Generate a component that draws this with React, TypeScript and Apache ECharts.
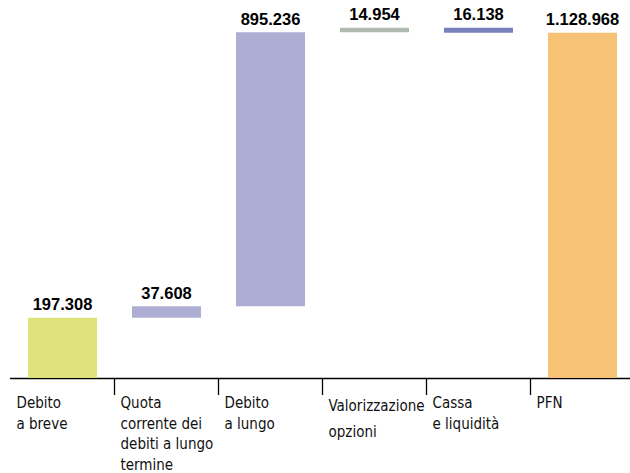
import React, { useEffect, useRef } from "react";
import * as echarts from "echarts";

const categories = [
  "Debito\na breve",
  "Quota\ncorrente dei\ndebiti a lungo\ntermine",
  "Debito\na lungo",
  "Valorizzazione\nopzioni",
  "Cassa\ne liquidità",
  "PFN",
];
// signed movements; the last one is the total
const values = [197308, 37608, 895236, 14954, -16138, 1128968];
const isTotal = [false, false, false, false, false, true];
const colors = ["#dde27a", "#aeadd3", "#aeadd3", "#b0bab0", "#7a7fbd", "#f8c276"];

const fmt = (v: number) => String(Math.abs(v)).replace(/\B(?=(\d{3})+(?!\d))/g, ".");

export default function App() {
  const ref = useRef<HTMLDivElement>(null);
  useEffect(() => {
    if (!ref.current) return;
    const chart = echarts.init(ref.current, null, { renderer: "svg" });
    const base: number[] = [];
    const heights: number[] = [];
    let running = 0;
    values.forEach((v, i) => {
      if (isTotal[i]) {
        base.push(0);
        heights.push(v);
      } else if (v >= 0) {
        base.push(running);
        heights.push(v);
        running += v;
      } else {
        running += v;
        base.push(running);
        heights.push(-v);
      }
    });
    const font = "'Liberation Sans Narrow', 'DejaVu Sans Condensed', 'Liberation Sans', sans-serif";
    const labelStyle = {
      align: "left",
      verticalAlign: "top",
      padding: [0, 0, 0, -46],
      fontFamily: font,
      fontSize: 15,
      lineHeight: 20.5,
      color: "#111",
    };
    chart.setOption({
      animation: false,
      grid: { left: 10.5, width: 624, top: 11, bottom: 95, outerBoundsMode: "none", containLabel: false },
      xAxis: {
        type: "category",
        data: categories.map((c, i) =>
          i === 3 ? { value: c, textStyle: { ...labelStyle, lineHeight: 26 } } : c
        ),
        axisLine: { lineStyle: { color: "#000", width: 1.3 } },
        axisTick: {
          show: true,
          length: 17,
          interval: (index: number) => index !== 0,
          lineStyle: { color: "#000", width: 1.3 },
        },
        axisLabel: {
          interval: 0,
          margin: 15,
          ...labelStyle,
        },
      },
      yAxis: { type: "value", min: 0, max: 1200000, show: false, splitLine: { show: false } },
      series: [
        {
          type: "bar",
          stack: "w",
          data: base,
          barWidth: 69,
          itemStyle: { color: "transparent" },
          emphasis: { disabled: true },
          silent: true,
        },
        {
          type: "bar",
          stack: "w",
          barWidth: 69,
          data: heights.map((h, i) => ({ value: h, itemStyle: { color: colors[i] } })),
          label: {
            show: true,
            position: "top",
            distance: 5,
            formatter: (p: any) => fmt(values[p.dataIndex]),
            fontFamily: "'Liberation Sans', Arial, sans-serif",
            fontWeight: "bold",
            fontSize: 16.5,
            color: "#000",
          },
        },
      ],
    });
    return () => chart.dispose();
  }, []);
  return (
    <div
      ref={ref}
      style={{ position: "fixed", left: 0, top: 0, width: 630, height: 473, background: "#fff" }}
    />
  );
}
